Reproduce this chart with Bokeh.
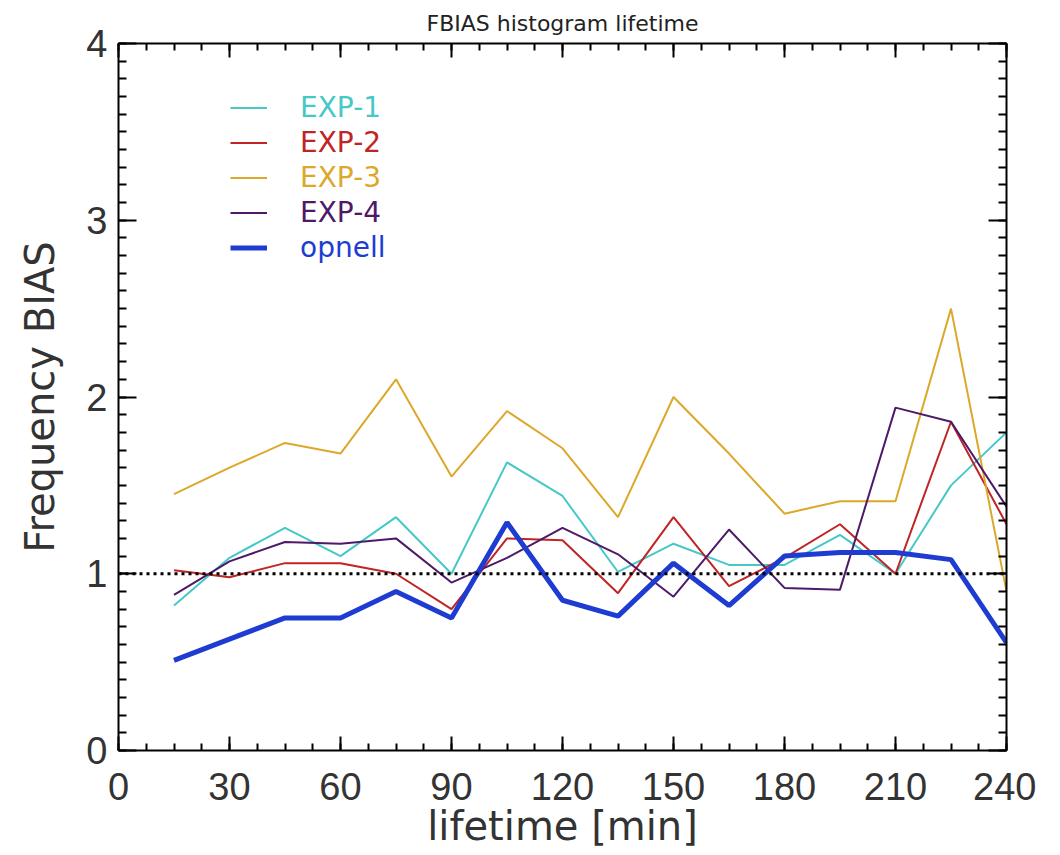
import numpy as np
from bokeh.plotting import figure
from bokeh.models import (Range1d, FixedTicker, LinearAxis, Span, Legend, LegendItem)
from bokeh.embed import file_html
from bokeh.resources import INLINE

# ---- data ----
lifetime = [15, 30, 45, 60, 75, 90, 105, 120, 135, 150, 165, 180, 195, 210, 225, 240]
exp1 = [0.82, 1.09, 1.26, 1.10, 1.32, 1.00, 1.63, 1.44, 1.01, 1.17, 1.05, 1.05, 1.22, 1.00, 1.50, 1.80]
exp2 = [1.02, 0.98, 1.06, 1.06, 1.00, 0.80, 1.20, 1.19, 0.89, 1.32, 0.93, 1.09, 1.28, 1.00, 1.86, 1.28]
exp3 = [1.45, 1.60, 1.74, 1.68, 2.10, 1.55, 1.92, 1.71, 1.32, 2.00, 1.68, 1.34, 1.41, 1.41, 2.50, 0.90]
exp4 = [0.88, 1.07, 1.18, 1.17, 1.20, 0.95, 1.09, 1.26, 1.11, 0.87, 1.25, 0.92, 0.91, 1.94, 1.86, 1.38]
opnell = [0.51, 0.63, 0.75, 0.75, 0.90, 0.75, 1.29, 0.85, 0.76, 1.06, 0.82, 1.10, 1.12, 1.12, 1.08, 0.61]

series_names = ["EXP-1", "EXP-2", "EXP-3", "EXP-4", "opnell"]
series_values = [exp1, exp2, exp3, exp4, opnell]
series_colors = ["#46c8c8", "#c02424", "#dca82a", "#4e1a68", "#1e3cd2"]
series_widths = [2, 2, 2, 2, 5]

x_ticks = [0, 30, 60, 90, 120, 150, 180, 210, 240]
y_ticks = [0, 1, 2, 3, 4]

LABEL_FONT = "DejaVu Sans"
TICK_FONT = "Liberation Sans"

p = figure(frame_width=888, frame_height=707,
           x_range=Range1d(0, 240), y_range=Range1d(0, 4),
           output_backend="svg", toolbar_location=None,
           min_border_left=118, min_border_top=43, min_border_right=30, min_border_bottom=90,
           x_axis_label="lifetime [min]", y_axis_label="Frequency BIAS",
           title="FBIAS histogram lifetime")
p.outline_line_color = None
p.xgrid.visible = False
p.ygrid.visible = False
p.background_fill_color = "white"
p.border_fill_color = "white"

p.title.align = "center"
p.title.text_font = LABEL_FONT
p.title.text_font_size = "22px"
p.title.text_font_style = "normal"
p.title.text_color = "#222222"
p.title.standoff = 16

xt = FixedTicker(ticks=x_ticks, minor_ticks=list(np.arange(0, 240.1, 7.5)))
yt = FixedTicker(ticks=y_ticks, minor_ticks=list(np.round(np.arange(0, 4.01, 0.1), 2)))

def style_axis(ax, ticker, major_len, minor_len, show_labels, ticks):
    ax.ticker = ticker
    ax.axis_line_width = 2
    ax.axis_line_color = "black"
    ax.major_tick_in = major_len
    ax.major_tick_out = 0
    ax.minor_tick_in = minor_len
    ax.minor_tick_out = 0
    ax.major_tick_line_width = 2
    ax.minor_tick_line_width = 2
    ax.major_tick_line_color = "black"
    ax.minor_tick_line_color = "black"
    if show_labels:
        ax.major_label_text_font = TICK_FONT
        ax.major_label_text_font_size = "38px"
        ax.major_label_text_color = "#333333"
        ax.axis_label_text_font = LABEL_FONT
        ax.axis_label_text_font_size = "40px"
        ax.axis_label_text_font_style = "normal"
        ax.axis_label_text_color = "#333333"
    else:
        ax.major_label_overrides = {t: "" for t in ticks}
        ax.major_label_text_font_size = "1px"
        ax.major_label_standoff = 0

xa = p.xaxis[0]
ya = p.yaxis[0]
style_axis(xa, xt, 14, 7, True, x_ticks)
style_axis(ya, yt, 18, 8, True, y_ticks)
xa.major_label_standoff = 22
xa.axis_label_standoff = 0
ya.major_label_standoff = 11
ya.axis_label_standoff = 20

top_ax = LinearAxis()
style_axis(top_ax, xt, 14, 7, False, x_ticks)
p.add_layout(top_ax, "above")
right_ax = LinearAxis()
style_axis(right_ax, yt, 18, 8, False, y_ticks)
p.add_layout(right_ax, "right")

p.add_layout(Span(location=1, dimension="width", line_color="black",
                  line_width=3, line_dash="3 4"))

renderers = []
for name, vals, col, lw in zip(series_names, series_values, series_colors, series_widths):
    r = p.line(lifetime, vals, line_color=col, line_width=lw)
    renderers.append(r)

for i, (name, r, col) in enumerate(zip(series_names, renderers, series_colors)):
    leg = Legend(items=[LegendItem(label=name, renderers=[r])],
                 location=(112, 625.5 - 35.2 * i),
                 margin=0, padding=0, border_line_color=None,
                 background_fill_alpha=0,
                 glyph_width=37, glyph_height=35, label_height=35,
                 label_standoff=33, label_text_font=LABEL_FONT,
                 label_text_font_size="28px", label_text_color=col,
                 label_text_baseline="middle")
    p.add_layout(leg, "center")

open("out.html", "w").write(file_html(p, INLINE))
